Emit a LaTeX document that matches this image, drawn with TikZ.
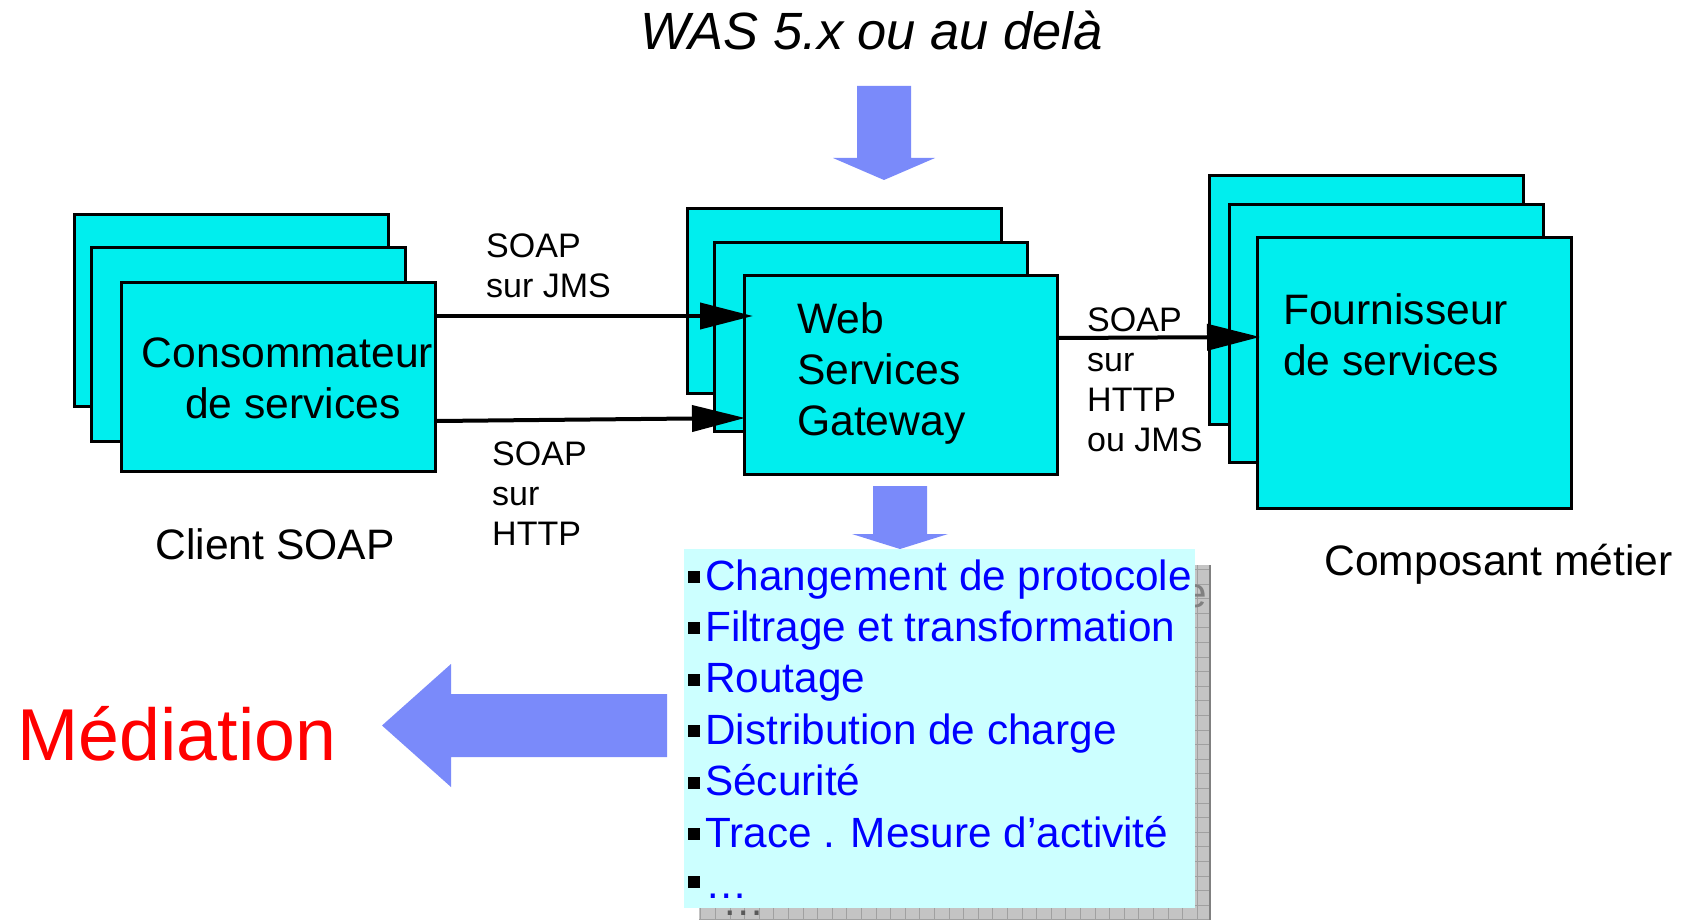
\documentclass[tikz,border=0pt]{standalone}
\usepackage{fontspec}
\setmainfont{Liberation Sans}
\usetikzlibrary{arrows.meta,positioning}
\definecolor{boxcyan}{RGB}{0,238,238}
\definecolor{listcyan}{RGB}{204,255,255}
\definecolor{arrowblue}{RGB}{122,138,250}
\definecolor{shadowgrey}{RGB}{196,196,196}
\definecolor{gridgrey}{RGB}{160,160,160}
\newcommand{\blt}[1][7pt]{{\color{black}\rule[#1]{12pt}{12pt}}\hspace{5pt}}

\begin{document}
\begin{tikzpicture}[x=1pt,y=1pt,>={Triangle[length=53pt,width=26pt]},
  box/.style={draw,fill=boxcyan,line width=3pt,minimum width=314pt,
    anchor=north west,inner sep=0pt},
  big/.style={font=\fontsize{42.6}{51}\selectfont,inner sep=0pt},
  small/.style={font=\fontsize{34}{39.7}\selectfont,inner sep=0pt,align=left},
  conn/.style={->,line width=4pt},
  fat/.style={fill=arrowblue,draw=none}]

  \useasboundingbox (0,0) rectangle (1684,-920);

  % title and arrow down to the gateway
  \node[font=\fontsize{52.4}{60}\selectfont\itshape,inner sep=0pt,anchor=base]
    (was) at (871.5,-50) {WAS 5.x ou au delà};
  \fill[fat] (857,-86) -- (911,-86) -- (911,-158) -- (935,-158) -- (884,-180)
    -- (833,-158) -- (857,-158) -- cycle;

  % client side
  \node[box,minimum height=192pt] (cons3) at (73,-213) {};
  \node[box,minimum height=194pt] (cons2) at (90,-246) {};
  \node[box,minimum height=189pt] (cons) at (120,-281) {};
  \node[big,align=center,anchor=base] (constxt)
    at ([xshift=9pt,yshift=-137pt]cons.north)
    {Consommateur\\\hspace*{11pt}de services};
  \node[big,anchor=base] (client) at (275,-559) {Client SOAP};

  % gateway
  \node[box,minimum height=185pt] (gw3) at (686,-207) {};
  \node[box,minimum width=313pt,minimum height=189pt] (gw2) at (713,-241) {};
  \node[box,minimum width=313pt,minimum height=199pt] (gw) at (743,-274) {};
  \node[big,align=left,anchor=base west] (gwtxt)
    at ([xshift=54pt,yshift=-161pt]gw.north west) {Web\\Services\\Gateway};

  % provider side
  \node[box,minimum height=249pt] (fo3) at (1208,-174) {};
  \node[box,minimum height=258pt] (fo2) at (1228,-203) {};
  \node[box,minimum height=271pt] (fo) at (1256,-236) {};
  \node[big,align=left,anchor=base west] (fotxt)
    at ([xshift=27pt,yshift=-139pt]fo.north west) {Fournisseur\\de services};
  \node[big,anchor=base] (metier) at (1498.5,-575) {Composant métier};

  % protocols
  \draw[conn,shorten >=-10pt] (cons.east |- 0,-316) -- (gw.west |- 0,-316);
  \draw[conn,shorten >=-2pt] (cons.east |- 0,-421) -- (gw.west |- 0,-418);
  \draw[conn,shorten >=-4pt] (gw.east |- 0,-338) -- (fo.west |- 0,-337);

  \node[small,anchor=base west] (jms) at (486,-297) {SOAP\\sur JMS};
  \node[small,anchor=base west] (http) at (492,-545) {SOAP\\sur\\HTTP};
  \node[small,anchor=base west] (both) at (1087,-451) {SOAP\\sur\\HTTP\\ou JMS};

  % mediation functions
  \fill[fat] (873,-486) -- (927,-486) -- (927,-534) -- (948,-534) -- (900,-549)
    -- (852,-534) -- (873,-534) -- cycle;

  \fill[shadowgrey] (699,-565) rectangle (1210,-920);
  \draw[gridgrey,line width=1pt,step=14.6pt] (699,-565) grid (1210,-920);
  \draw[gray,line width=1.5pt] (1210,-565) -- (1210,-920);
  \node[text=gray,font=\fontsize{42.3}{50}\selectfont,inner sep=0pt,
    anchor=base west] (ghost) at (1183,-607) {e};
  \node[text=gray!70!black,font=\fontsize{42.3}{50}\selectfont,inner sep=0pt,
    anchor=base west] (ghostdots) at (722,-915) {…};

  \node[fill=listcyan,anchor=north west,minimum width=511pt,minimum height=359pt,
    inner sep=0pt] (mlist) at (684,-549) {};
  \node[anchor=base west,align=left,text=blue,inner sep=0pt,
    font=\fontsize{42.3}{51.4}\selectfont] (items)
    at ([xshift=4pt,yshift=10pt]mlist.south west)
    {\blt Changement de protocole\\\blt Filtrage et transformation\\
     \blt Routage\\\blt Distribution de charge\\\blt Sécurité\\
     \blt Trace . Mesure d’activité\\\blt[10pt]…};

  \fill[fat] (667,-694) -- (451,-694) -- (451,-664) -- (382,-725.5) -- (451,-787)
    -- (451,-757) -- (667,-757) -- cycle;
  \node[font=\fontsize{73.5}{80}\selectfont,text=red,inner sep=0pt,anchor=base]
    (med) at (177,-760) {Médiation};

\end{tikzpicture}
\end{document}
